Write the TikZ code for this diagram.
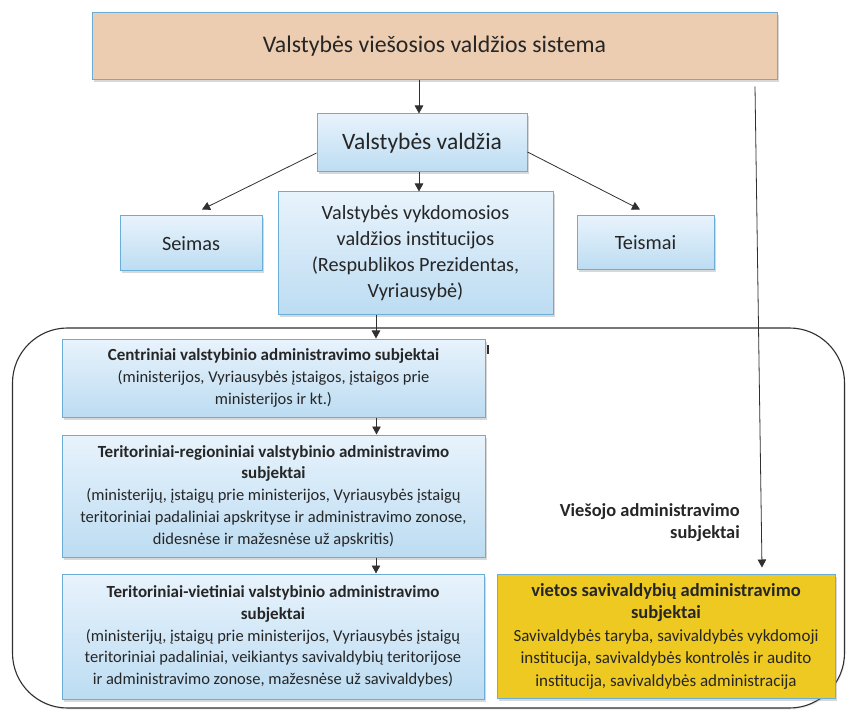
\documentclass[tikz,border=0pt]{standalone}
\usepackage{fontspec}
\setmainfont{Carlito}
\usetikzlibrary{arrows.meta,shadows}
\definecolor{txt}{HTML}{262626}
\definecolor{bordblue}{HTML}{6AAED8}
\definecolor{boxtop}{HTML}{E8F3FC}
\definecolor{boxbot}{HTML}{BCDCF2}
\definecolor{peach}{HTML}{EDCDB1}
\definecolor{gold}{HTML}{EEC922}
\definecolor{linegray}{HTML}{303030}
\tikzset{
  x=1pt, y=-1pt,
  boxbase/.style={draw=bordblue, line width=1pt, text=txt, align=center, inner sep=0pt,
    drop shadow={shadow xshift=1.5pt, shadow yshift=-2.5pt, opacity=0.3}},
  bluebox/.style={boxbase, top color=boxtop, bottom color=boxbot},
  arr/.style={-{Triangle[length=8pt,width=8.5pt]}, line width=0.8pt, draw=linegray},
}
\begin{document}
\begin{tikzpicture}
\useasboundingbox (0,0) rectangle (846,711);
\fill[white] (0,0) rectangle (846,711);

% container
\node[draw=linegray, line width=1.1pt, rounded corners=55pt, minimum width=832pt, minimum height=380pt,
      drop shadow={shadow xshift=1pt, shadow yshift=-1.5pt, opacity=0.15}, fill=white] (adm) at (428.5,518) {};

% top
\node[boxbase, fill=peach, minimum width=685pt, minimum height=67pt, font=\fontsize{23.8}{28}\selectfont]
  (top) at (434.5,46.5) {Valstybės viešosios valdžios sistema};

\node[bluebox, minimum width=210pt, minimum height=58pt, font=\fontsize{23.5}{28}\selectfont]
  (vv) at (422,143) {Valstybės valdžia};

\node[bluebox, minimum width=142pt, minimum height=55pt, font=\fontsize{20.3}{24}\selectfont]
  (seimas) at (191,243.5) {Seimas};

\node[bluebox, minimum width=275pt, minimum height=123pt, font=\fontsize{20.2}{26}\selectfont]
  (mid) at (415.5,253.5) {Valstybės vykdomosios\\valdžios institucijos\\(Respublikos Prezidentas,\\Vyriausybė)};

\node[bluebox, minimum width=137pt, minimum height=54pt, font=\fontsize{20.3}{24}\selectfont]
  (teismai) at (645.5,243) {Teismai};

\node[bluebox, minimum width=423pt, minimum height=78pt, font=\fontsize{16.5}{22}\selectfont]
  (cent) at (273.5,378) {{\fontsize{17}{22}\selectfont\textbf{Centriniai valstybinio administravimo subjektai}}\\(ministerijos, Vyriausybės įstaigos, įstaigos prie\\ministerijos ir kt.)};

\node[bluebox, minimum width=423pt, minimum height=122pt, font=\fontsize{16.5}{21.8}\selectfont]
  (reg) at (273.5,496) {{\fontsize{17}{21.8}\selectfont\textbf{Teritoriniai-regioniniai valstybinio administravimo}}\\{\fontsize{17}{21.8}\selectfont\textbf{subjektai}}\\(ministerijų, įstaigų prie ministerijos, Vyriausybės įstaigų\\teritoriniai padaliniai apskrityse ir administravimo zonose,\\didesnėse ir mažesnėse už apskritis)};

\node[bluebox, minimum width=422pt, minimum height=125pt, font=\fontsize{16.5}{21.8}\selectfont]
  (viet) at (273,636.5) {{\fontsize{17}{21.8}\selectfont\textbf{Teritoriniai-vietiniai valstybinio administravimo}}\\{\fontsize{17}{21.8}\selectfont\textbf{subjektai}}\\(ministerijų, įstaigų prie ministerijos, Vyriausybės įstaigų\\teritoriniai padaliniai, veikiantys savivaldybių teritorijose\\ir administravimo zonose, mažesnėse už savivaldybes)};

\node[boxbase, fill=gold, minimum width=338pt, minimum height=124pt, font=\fontsize{17}{22.5}\selectfont]
  (sav) at (666,636) {{\fontsize{18.5}{23}\selectfont\textbf{vietos savivaldybių administravimo}}\\{\fontsize{18.5}{23}\selectfont\textbf{subjektai}}\\Savivaldybės taryba, savivaldybės vykdomoji\\institucija, savivaldybės kontrolės ir audito\\institucija, savivaldybės administracija};

\node[text=txt, align=right, anchor=east, inner sep=0pt, font=\fontsize{18.4}{21.5}\selectfont\bfseries]
  (lbl) at (740,522.5) {Viešojo administravimo\\subjektai};

% connectors
\draw[arr] ([xshift=-3pt]vv.north |- top.south) -- ([xshift=-3pt]vv.north);
\draw[arr] ([yshift=-10pt]vv.west) -- ([xshift=11pt,yshift=6pt]seimas.north);
\draw[arr] ([yshift=-9pt]vv.east) -- ([xshift=-5.5pt,yshift=6pt]teismai.north);
\draw[arr] ([xshift=-3pt]vv.south) -- ([xshift=-3pt]vv.south |- mid.north);
\draw[arr] ([xshift=102.5pt]cent.north |- mid.south) -- ([xshift=102.5pt]cent.north);
\draw[arr] ([xshift=103pt]reg.north |- cent.south) -- ([xshift=103pt]reg.north);
\draw[arr] ([xshift=103pt]viet.north |- reg.south) -- ([xshift=103pt]viet.north);
\draw[arr] ([xshift=320.5pt,yshift=-6pt]top.south) -- ([xshift=96pt,yshift=6pt]sav.north);

% small mark
\draw[line width=1.3pt, draw=linegray] (488,345) -- (488,354);
\end{tikzpicture}
\end{document}
